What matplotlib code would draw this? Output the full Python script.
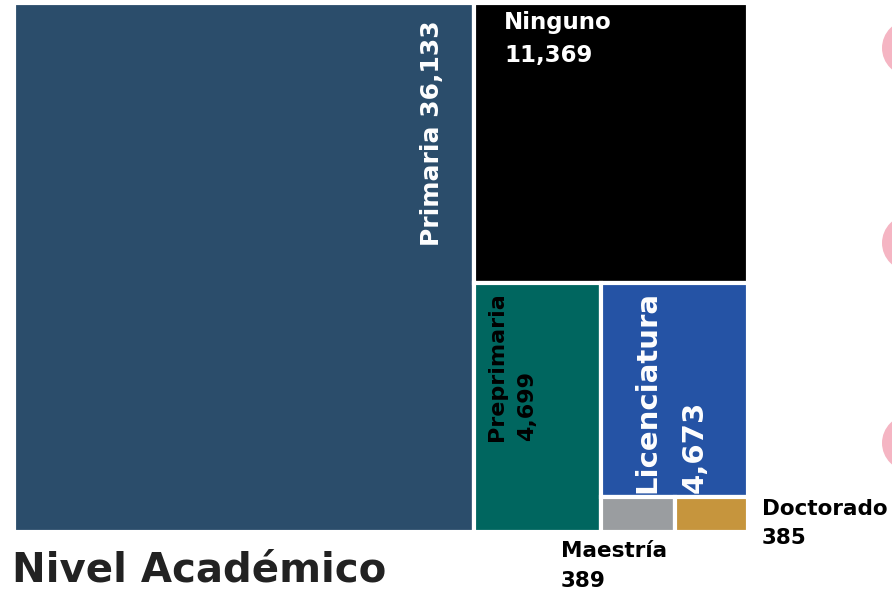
import matplotlib.pyplot as plt
from matplotlib.patches import Rectangle, Circle

# data
niveles = ["Primaria", "Ninguno", "Preprimaria", "Licenciatura", "Maestría", "Doctorado"]
valores = [36133, 11369, 4699, 4673, 389, 385]
colores = ["#2B4D6B", "#000000", "#00665F", "#2553A5", "#9A9DA0", "#C6953D"]

plt.rcParams['font.family'] = ['DejaVu Sans']

fig = plt.figure(figsize=(8.92, 6), dpi=100)

# background axes in pixel units for decoration
bg = fig.add_axes([0, 0, 1, 1])
bg.set_xlim(0, 892)
bg.set_ylim(600, 0)
bg.axis('off')
for cy in [48, 243, 443]:
    bg.add_patch(Circle((910, cy), 28, color="#F5B5C3", lw=0))

# treemap axes, units are pixels
W, H = 734, 529
ax = fig.add_axes([14 / 892, 68 / 600, W / 892, H / 600])
ax.set_xlim(0, W)
ax.set_ylim(H, 0)
ax.axis('off')

# slice and dice layout
total = sum(valores)
rects = {}
# Primaria: vertical strip
pw = W * valores[0] / total
rects[0] = (0, 0, pw, H)
resto = total - valores[0]
# Ninguno: top band of the rest
nh = H * valores[1] / resto
rects[1] = (pw, 0, W, nh)
resto -= valores[1]
# Preprimaria: left column of bottom part
ppw = (W - pw) * valores[2] / resto
rects[2] = (pw, nh, pw + ppw, H)
resto -= valores[2]
# Licenciatura: top of the last column
lh = (H - nh) * valores[3] / resto
rects[3] = (pw + ppw, nh, W, nh + lh)
resto -= valores[3]
# Maestría / Doctorado side by side
mw = (W - pw - ppw) * valores[4] / resto
rects[4] = (pw + ppw, nh + lh, pw + ppw + mw, H)
rects[5] = (pw + ppw + mw, nh + lh, W, H)

for i, (a, b, c, d) in rects.items():
    ax.add_patch(Rectangle((a, b), c - a, d - b, facecolor=colores[i],
                           edgecolor="white", lw=3))

def fmt(v):
    return f"{v:,}"

a, b, c, d = rects[0]
ax.text(c - 42, b + 17, f"{niveles[0]} {fmt(valores[0])}", rotation=90,
        ha='center', va='top', color='white', fontsize=18, fontweight='bold')

a, b, c, d = rects[1]
ax.text(a + 30, b + 8, f"{niveles[1]}\n{fmt(valores[1])}", ha='left', va='top',
        color='white', fontsize=16.5, fontweight='bold', linespacing=1.55)

a, b, c, d = rects[2]
ax.text(a + 38, b + 158, f"{niveles[2]}\n{fmt(valores[2])}", rotation=90,
        ha='center', va='bottom', multialignment='left', color='black',
        fontsize=16, fontweight='bold', linespacing=1.65)

a, b, c, d = rects[3]
ax.text(a + 70, d - 4, f"{niveles[3]}\n{fmt(valores[3])}", rotation=90,
        ha='center', va='bottom', multialignment='left', color='white',
        fontsize=21, fontweight='bold', linespacing=1.85)

a, b, c, d = rects[4]
ax.text(a - 40, d + 9, f"{niveles[4]}\n{fmt(valores[4])}", ha='left', va='top',
        color='black', fontsize=15.5, fontweight='bold', linespacing=1.6,
        clip_on=False)

a, b, c, d = rects[5]
ax.text(c + 14, b + 2, f"{niveles[5]}\n{fmt(valores[5])}", ha='left', va='top',
        color='black', fontsize=15.5, fontweight='bold', linespacing=1.6,
        clip_on=False)

fig.text(12 / 892, 10 / 600, "Nivel Académico", ha='left', va='bottom',
         fontsize=29, fontweight='bold', color='#222222')

fig.savefig("out.png", dpi=100)
